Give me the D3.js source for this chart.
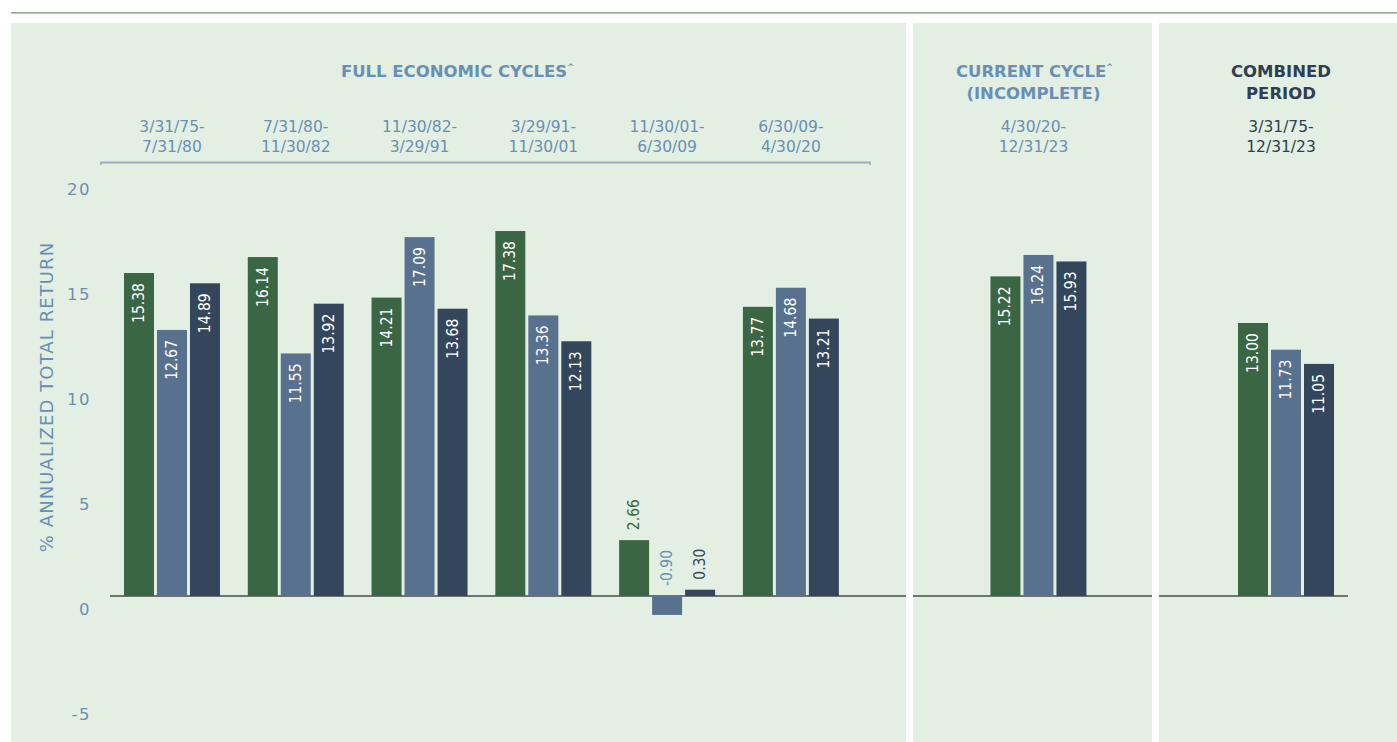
<!DOCTYPE html>
<html>
<head>
<meta charset="utf-8">
<script src="https://cdn.jsdelivr.net/npm/d3@7/dist/d3.min.js"></script>
<style>
html,body{margin:0;padding:0;background:#ffffff;}
svg{display:block;}
</style>
</head>
<body>
<svg id="chart" width="1397" height="742"></svg>
<script>
// ---- data ----
const slots = ["c1","c2","c3","c4","c5","c6","gapA","cur","gapB","comb"];
const periodStart = ["3/31/75-","7/31/80-","11/30/82-","3/29/91-","11/30/01-","6/30/09-","","4/30/20-","","3/31/75-"];
const periodEnd   = ["7/31/80","11/30/82","3/29/91","11/30/01","6/30/09","4/30/20","","12/31/23","","12/31/23"];
const seriesKeys = ["s1","s2","s3"];
const s1 = [15.38,16.14,14.21,17.38,2.66,13.77,null,15.22,null,13.00];
const s2 = [12.67,11.55,17.09,13.36,-0.90,14.68,null,16.24,null,11.73];
const s3 = [14.89,13.92,13.68,12.13,0.30,13.21,null,15.93,null,11.05];
const yTicks = [20,15,10,5,0,-5];

const colors = {s1:"#3a6644", s2:"#58718f", s3:"#33465c"};
const outColors = {s1:"#3a6644", s2:"#6a8fb5", s3:"#33465c"};
const labelBlue = "#6a8fb5";
const darkText = "#2f3e50";
const FONT = "'DejaVu Sans','Noto Sans',sans-serif";
const hyph = s => s.replace("\u2212","-");

const svg = d3.select("#chart");
const W = 1397, H = 742;

// top rule
svg.append("rect").attr("x",11).attr("y",12).attr("width",W-11).attr("height",1.6).attr("fill","#94a890");

// panels
const panels = [
  {x0:11, x1:906, z0:110, z1:906},
  {x0:913, x1:1152, z0:913, z1:1152},
  {x0:1159, x1:1397, z0:1159, z1:1348}
];
panels.forEach(p=>{
  svg.append("rect").attr("x",p.x0).attr("y",23).attr("width",p.x1-p.x0).attr("height",H-23).attr("fill","#e3efe2");
});

// scales
const x = d3.scaleBand().domain(slots).range([124,1334]).paddingInner(0.2246).paddingOuter(0);
const xi = d3.scaleBand().domain(seriesKeys).range([0,x.bandwidth()]).paddingInner(0.0909).paddingOuter(0);
const y = d3.scaleLinear().domain([-5,20]).range([701,176]);

// y tick labels (drawn slightly below their gridline positions as in the original)
const yAxisG = svg.append("g").attr("transform","translate(91,13)")
  .call(d3.axisLeft(y).tickValues(yTicks).tickSize(0).tickPadding(0).tickFormat(d=>hyph(d3.format("d")(d))));
yAxisG.select(".domain").remove();
yAxisG.selectAll("text").attr("fill",labelBlue).attr("font-family",FONT).attr("font-size",16.5).attr("letter-spacing","1.5px");

// y title
svg.append("text").attr("transform","translate(53,397) rotate(-90)")
  .attr("text-anchor","middle").attr("fill",labelBlue)
  .attr("font-family",FONT).attr("font-size",18).attr("letter-spacing","1.1px")
  .text("% ANNUALIZED TOTAL RETURN");

// zero lines
panels.forEach(p=>{
  svg.append("line").attr("x1",p.z0).attr("x2",p.z1).attr("y1",y(0)).attr("y2",y(0))
    .attr("stroke","#4a4a48").attr("stroke-width",1.6);
});

// bars
const rows = slots.map((k,i)=>({key:k, i, vals:{s1:s1[i], s2:s2[i], s3:s3[i]}})).filter(r=>r.vals.s1!==null);
const groups = svg.append("g").selectAll("g").data(rows).join("g")
  .attr("transform",d=>`translate(${x(d.key)},0)`);

groups.selectAll("rect").data(d=>seriesKeys.map(s=>({s, v:d.vals[s]}))).join("rect")
  .attr("x",d=>xi(d.s)).attr("width",xi.bandwidth())
  .attr("y",d=>y(Math.max(0,d.v))).attr("height",d=>Math.abs(y(d.v)-y(0)))
  .attr("fill",d=>colors[d.s]);

// value labels
groups.selectAll("text.val").data(d=>seriesKeys.map(s=>({s, v:d.vals[s]}))).join("text")
  .attr("class","val")
  .attr("font-family","'DejaVu Sans Condensed','DejaVu Sans',sans-serif")
  .attr("font-size",15.5)
  .attr("dominant-baseline","central")
  .each(function(d){
    const cx = xi(d.s) + xi.bandwidth()/2;
    const inside = d.v > 4;
    const el = d3.select(this);
    if(inside){
      el.attr("transform",`translate(${cx},${y(d.v)+10}) rotate(-90)`)
        .attr("text-anchor","end").attr("fill","#ffffff");
    } else {
      el.attr("transform",`translate(${cx},${y(Math.max(0,d.v))-10}) rotate(-90)`)
        .attr("text-anchor","start").attr("fill",outColors[d.s]);
    }
    el.text(hyph(d3.format(".2f")(d.v)));
  });

// headers
function hdr(txt, cx, yy, color, bold, size, caret){
  const t = svg.append("text").attr("x",cx).attr("y",yy).attr("text-anchor","middle")
    .attr("fill",color).attr("font-family",FONT)
    .attr("font-size",size).attr("font-weight",bold?700:400);
  t.append("tspan").text(txt);
  if(caret){ t.append("tspan").attr("font-size",8).attr("dy",-7).text("^"); }
  return t;
}
const fullCenter = (x("c1") + x("c6") + x.bandwidth())/2;
hdr("FULL ECONOMIC CYCLES", fullCenter-24, 77, labelBlue, true, 16.5, true);
hdr("CURRENT CYCLE", x("cur")+x.bandwidth()/2-4, 77, labelBlue, true, 16.5, true);
hdr("(INCOMPLETE)", x("cur")+x.bandwidth()/2-5, 99, labelBlue, true, 16.5, false);
hdr("COMBINED", x("comb")+x.bandwidth()/2-5, 77, darkText, true, 16.5, false);
hdr("PERIOD", x("comb")+x.bandwidth()/2-5, 99, darkText, true, 16.5, false);

slots.forEach((k,i)=>{
  if(!periodStart[i]) return;
  const col = k==="comb" ? darkText : labelBlue;
  const cx = x(k)+x.bandwidth()/2 - (k==="cur"||k==="comb" ? 5 : 0);
  hdr(periodStart[i], cx, 132, col, false, 15.5, false);
  hdr(periodEnd[i], cx, 152, col, false, 15.5, false);
});

// bracket under full-cycle dates
const bx0 = 101, bx1 = 870, by = 162.5;
svg.append("path").attr("d",`M${bx0},${by+2.5}V${by}H${bx1}V${by+2.5}`)
  .attr("fill","none").attr("stroke","#9ab0c4").attr("stroke-width",1.8);
</script>
</body>
</html>
